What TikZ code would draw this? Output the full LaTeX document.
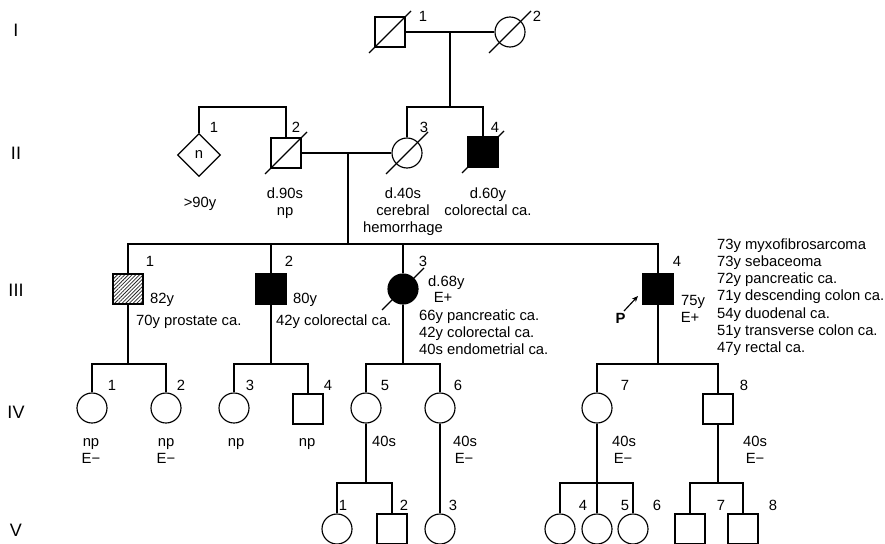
\documentclass[tikz,border=0pt]{standalone}
\usepackage{fontspec}
\setmainfont{Liberation Sans}
\usetikzlibrary{shapes.geometric,patterns.meta,arrows.meta}
\begin{document}
\begin{tikzpicture}[x=1pt,y=-1pt,
  lw/.style={line width=1.15pt},
  every node/.style={font=\fontsize{14.8}{17}\selectfont, inner sep=0pt},
  male/.style={draw, lw, rectangle, minimum size=30pt},
  female/.style={draw, lw, circle, minimum size=30pt},
  unk/.style={draw, lw, diamond, minimum width=43pt, minimum height=43pt},
  aff/.style={fill=black},
  hatch/.style={pattern={Lines[angle=45,distance=2.6pt,line width=0.75pt]}, pattern color=black!85},
  txt/.style={anchor=base},
  txtl/.style={anchor=base west},
  gen/.style={anchor=base, font=\fontsize{18}{20}\selectfont},
  conn/.style={lw},
]
\useasboundingbox (0,0) rectangle (885,543);
\clip (0,0) rectangle (885,543);
\newcommand\deadmark[1]{\draw[lw] (#1.center) ++(-21,21) -- ++(42,-42);}

% ---------- persons ----------
\node[male] (I1) at (390,32) {};
\node[female] (I2) at (510,32) {};

\node[unk] (II1) at (199,155) {n};
\node[male] (II2) at (286,153) {};
\node[female] (II3) at (407,153) {};
\node[male,aff] (II4) at (483,152) {};

\node[male,hatch] (III1) at (128,289) {};
\node[male,aff] (III2) at (271,289) {};
\node[female,aff] (III3) at (403,289) {};
\node[male,aff] (III4) at (658,289) {};

\node[female] (IV1) at (92,408) {};
\node[female] (IV2) at (166,408) {};
\node[female] (IV3) at (234,408) {};
\node[male] (IV4) at (308,409) {};
\node[female] (IV5) at (366,408) {};
\node[female] (IV6) at (440,408) {};
\node[female] (IV7) at (597,408) {};
\node[male] (IV8) at (718,409) {};

\node[female] (V1) at (337,529) {};
\node[male] (V2) at (392,529) {};
\node[female] (V3) at (440,529) {};
\node[female] (V4) at (560,529) {};
\node[female] (V5) at (597,529) {};
\node[female] (V6) at (633,529) {};
\node[male] (V7) at (690,529) {};
\node[male] (V8) at (743,529) {};

% deceased marks
\deadmark{I1}
\deadmark{I2}
\deadmark{II2}
\deadmark{II3}
\deadmark{II4}
\deadmark{III3}

% ---------- connectors ----------
\coordinate (mI) at (450,32);
\coordinate (sII) at (450,107);
\draw[conn] (I1.east) -- (I2.west);
\draw[conn] (mI) -- (sII);
\draw[conn] (II3.north) |- (II4.north |- sII) -- (II4.north);

\coordinate (sIIa) at (243,107);
\draw[conn] (II1.north) |- (II2.north |- sIIa) -- (II2.north);

\coordinate (mII) at (348,153);
\coordinate (sIII) at (348,244);
\draw[conn] (II2.east) -- (II3.west);
\draw[conn] (mII) -- (sIII);
\draw[conn] (III1.north) |- (III4.north |- sIII) -- (III4.north);
\draw[conn] (III2.north) -- (III2.north |- sIII);
\draw[conn] (III3.north) -- (III3.north |- sIII);

\coordinate (sIVa) at (128,364);
\coordinate (sIVb) at (271,364);
\coordinate (sIVc) at (403,364);
\coordinate (sIVd) at (658,364);
\draw[conn] (III1.south) -- (sIVa);
\draw[conn] (III2.south) -- (sIVb);
\draw[conn] (III3.south) -- (sIVc);
\draw[conn] (III4.south) -- (sIVd);
\draw[conn] (IV1.north) |- (IV2.north |- sIVa) -- (IV2.north);
\draw[conn] (IV3.north) |- (IV4.north |- sIVb) -- (IV4.north);
\draw[conn] (IV5.north) |- (IV6.north |- sIVc) -- (IV6.north);
\draw[conn] (IV7.north) |- (IV8.north |- sIVd) -- (IV8.north);

\coordinate (sVa) at (366,483);
\coordinate (sVc) at (597,483);
\coordinate (sVd) at (718,483);
\draw[conn] (IV5.south) -- (sVa);
\draw[conn] (V1.north) |- (V2.north |- sVa) -- (V2.north);
\draw[conn] (IV6.south) -- (V3.north);
\draw[conn] (IV7.south) -- (V5.north);
\draw[conn] (V4.north) |- (V6.north |- sVc) -- (V6.north);
\draw[conn] (IV8.south) -- (sVd);
\draw[conn] (V7.north) |- (V8.north |- sVd) -- (V8.north);

% proband arrow
\node[txt, font=\fontsize{14.8}{17}\selectfont\bfseries] (P) at (620.5,323.5) {P};
\coordinate (pa) at (624,311);
\coordinate (pt) at (638,296);
\draw[conn,-{Stealth[length=6pt,width=5pt]}] (pa) -- (pt);

% ---------- generation numerals ----------
\node[gen] (gI) at (16,36.5) {I};
\node[gen] (gII) at (16,159.5) {II};
\node[gen] (gIII) at (16,296) {III};
\node[gen] (gIV) at (16,418.5) {IV};
\node[gen] (gV) at (16,536.5) {V};

% ---------- individual numbers ----------
\node[txt] (nI1) at (423,22) {1};
\node[txt] (nI2) at (537,22) {2};
\node[txt] (nII1) at (214,132) {1};
\node[txt] (nII2) at (296,132) {2};
\node[txt] (nII3) at (424,132) {3};
\node[txt] (nII4) at (495,132) {4};
\node[txt] (nIII1) at (150,266) {1};
\node[txt] (nIII2) at (289,266) {2};
\node[txt] (nIII3) at (423,266) {3};
\node[txt] (nIII4) at (677,266) {4};
\node[txt] (nIV1) at (112,390) {1};
\node[txt] (nIV2) at (181,390) {2};
\node[txt] (nIV3) at (250,390) {3};
\node[txt] (nIV4) at (328,390) {4};
\node[txt] (nIV5) at (385,390) {5};
\node[txt] (nIV6) at (458,390) {6};
\node[txt] (nIV7) at (625,390) {7};
\node[txt] (nIV8) at (744,390) {8};
\node[txt] (nV1) at (343,510) {1};
\node[txt] (nV2) at (404,510) {2};
\node[txt] (nV3) at (453,510) {3};
\node[txt] (nV4) at (583,510) {4};
\node[txt] (nV5) at (625,510) {5};
\node[txt] (nV6) at (657,510) {6};
\node[txt] (nV7) at (721,510) {7};
\node[txt] (nV8) at (773,510) {8};

% ---------- annotations ----------
\node[txt] (a1) at (200,207) {>90y};
\node[txt] (a2) at (285,198) {d.90s};
\node[txt] (a3) at (285,215) {np};
\node[txt] (a4) at (403,198) {d.40s};
\node[txt] (a5) at (403,215) {cerebral};
\node[txt] (a6) at (403,232) {hemorrhage};
\node[txt] (a7) at (488,198) {d.60y};
\node[txt] (a8) at (488,215) {colorectal ca.};

\node[txtl] (b1) at (150,303) {82y};
\node[txtl] (b2) at (136,325) {70y prostate ca.};
\node[txtl] (b3) at (293,303) {80y};
\node[txtl] (b4) at (276,325) {42y colorectal ca.};
\node[txtl] (b5) at (428,286) {d.68y};
\node[txt] (b6) at (443,302) {E+};
\node[txtl] (b7) at (419,320) {66y pancreatic ca.};
\node[txtl] (b8) at (419,337) {42y colorectal ca.};
\node[txtl] (b9) at (419,354) {40s endometrial ca.};
\node[txtl] (b10) at (681,305) {75y};
\node[txt] (b11) at (690,322) {E+};
\node[txtl] (c1) at (717,249) {73y myxofibrosarcoma};
\node[txtl] (c2) at (717,266.3) {73y sebaceoma};
\node[txtl] (c3) at (717,283.6) {72y pancreatic ca.};
\node[txtl] (c4) at (717,300.9) {71y descending colon ca.};
\node[txtl] (c5) at (717,318.2) {54y duodenal ca.};
\node[txtl] (c6) at (717,335.5) {51y transverse colon ca.};
\node[txtl] (c7) at (717,352.8) {47y rectal ca.};

\node[txt] (d1) at (91,446) {np};
\node[txt] (d2) at (91,463) {E−};
\node[txt] (d3) at (166,446) {np};
\node[txt] (d4) at (166,463) {E−};
\node[txt] (d5) at (236,446) {np};
\node[txt] (d6) at (307,446) {np};
\node[txtl] (d7) at (372,446) {40s};
\node[txtl] (d8) at (453,446) {40s};
\node[txt] (d9) at (464,463) {E−};
\node[txtl] (d10) at (612,446) {40s};
\node[txt] (d11) at (623,463) {E−};
\node[txtl] (d12) at (743,446) {40s};
\node[txt] (d13) at (755,463) {E−};
\end{tikzpicture}
\end{document}
